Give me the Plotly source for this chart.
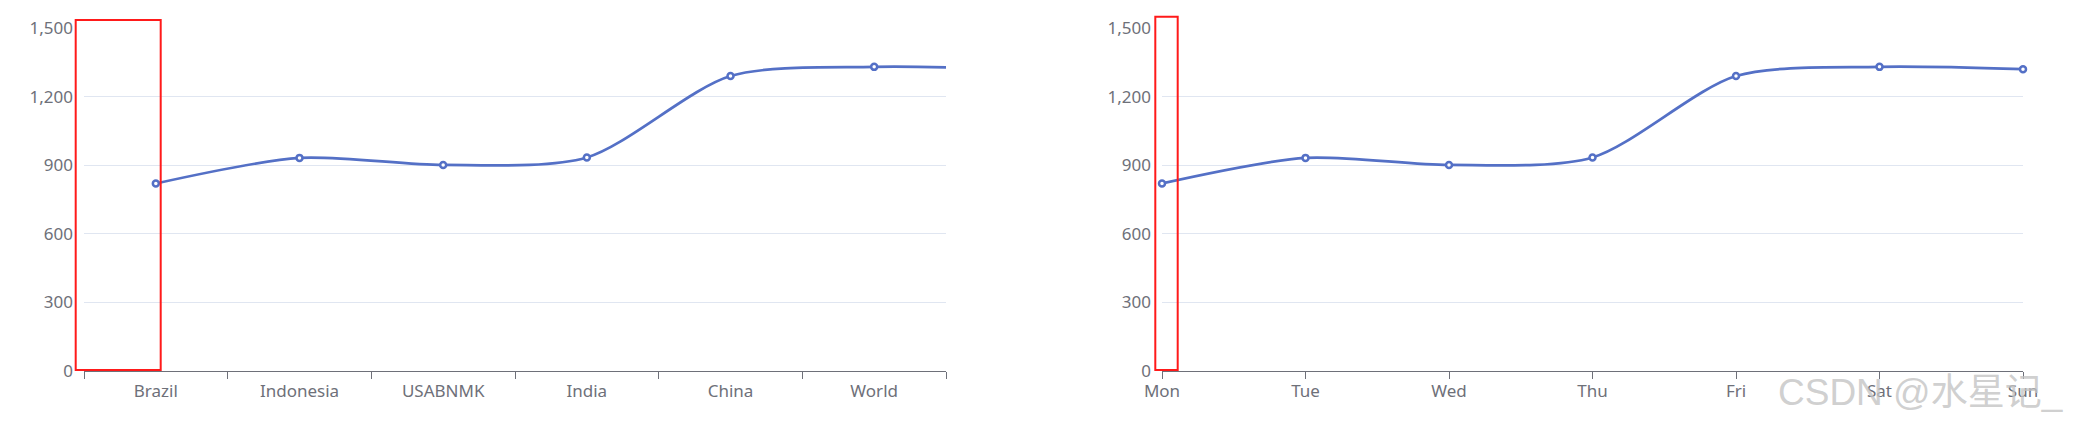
import plotly.graph_objects as go

countries = ["Brazil", "Indonesia", "USABNMK", "India", "China", "World"]
days = ["Mon", "Tue", "Wed", "Thu", "Fri", "Sat", "Sun"]
values = [820, 932, 901, 934, 1290, 1330, 1320]
y_ticks = [0, 300, 600, 900, 1200, 1500]

W, H = 2074, 429
LINE = "#5470c6"
AXIS = "#6E7079"
GRID = "#E0E6F1"
FONT = "Noto Sans"

fig = go.Figure()

marker = dict(symbol="circle", size=6, color="white", line=dict(color=LINE, width=2.5))

fig.add_trace(go.Scatter(
    x=list(range(len(values))), y=values, mode="lines+markers",
    line=dict(color=LINE, width=2.7, shape="spline", smoothing=0.8),
    marker=marker, xaxis="x", yaxis="y", showlegend=False, cliponaxis=True))

fig.add_trace(go.Scatter(
    x=list(range(len(days))), y=values, mode="lines+markers",
    line=dict(color=LINE, width=2.7, shape="spline", smoothing=0.8),
    marker=marker, xaxis="x2", yaxis="y2", showlegend=False, cliponaxis=False))

ydom = [(H - 371) / H, (H - 28) / H]
yax = dict(range=[0, 1500], tickvals=y_ticks, tickformat=",", showgrid=True,
           gridcolor=GRID, gridwidth=1.3, zeroline=False, showline=False,
           ticks="", ticklabelstandoff=10, automargin=False,
           tickfont=dict(family=FONT, size=17, color=AXIS), domain=ydom)

fig.update_layout(
    template="none",
    width=W, height=H, margin=dict(l=0, r=0, t=0, b=0, autoexpand=False),
    paper_bgcolor="white", plot_bgcolor="white",
    xaxis=dict(domain=[84 / W, 946 / W], range=[-0.5, len(countries) - 0.5],
               tickvals=list(range(len(countries))), ticktext=countries,
               ticks="", showgrid=False, zeroline=False, automargin=False,
               showline=True, linecolor=AXIS, linewidth=1.3,
               ticklabelstandoff=4,
               tickfont=dict(family=FONT, size=17, color=AXIS),
               minor=dict(tickvals=[i - 0.5 for i in range(len(countries) + 1)],
                          ticks="outside", ticklen=7, tickcolor=AXIS, tickwidth=1.3,
                          showgrid=False)),
    yaxis=dict(**yax, anchor="x"),
    xaxis2=dict(domain=[1162 / W, 2023 / W], range=[0, len(days) - 1],
                tickvals=list(range(len(days))), ticktext=days,
                ticks="outside", ticklen=7, tickcolor=AXIS, tickwidth=1.3,
                showgrid=False, zeroline=False, automargin=False,
                showline=True, linecolor=AXIS, linewidth=1.3,
                ticklabelstandoff=-3,
                tickfont=dict(family=FONT, size=17, color=AXIS), anchor="y2"),
    yaxis2=dict(**yax, anchor="x2"),
)

# red highlight boxes
for x0, x1, y0, y1 in [(75.7, 160.7, 20, 370), (1155.3, 1177.7, 16.7, 370)]:
    fig.add_shape(type="rect", xref="paper", yref="paper",
                  x0=x0 / W, x1=x1 / W, y0=(H - y1) / H, y1=(H - y0) / H,
                  line=dict(color="#ff1a1a", width=2), fillcolor="rgba(0,0,0,0)")

fig.add_annotation(text="CSDN @水星记_", xref="paper", yref="paper",
                   x=1776 / W, y=(H - 392) / H, xanchor="left", yanchor="middle",
                   showarrow=False,
                   font=dict(family="Liberation Sans, Noto Sans CJK SC", size=37,
                             color="rgba(195,195,195,0.8)"))

fig.write_html("out.html", config={"displayModeBar": False},
               post_script="document.body.style.margin='0';document.body.style.overflow='hidden';")
